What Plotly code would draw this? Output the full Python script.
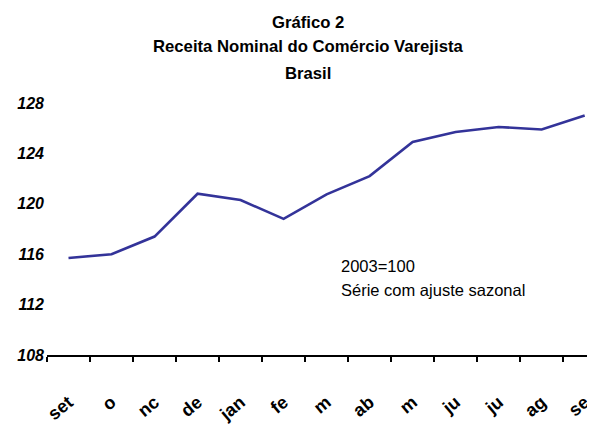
import plotly.graph_objects as go

months = ["set", "o", "nc", "de", "jan", "fe", "m", "ab", "m", "ju", "ju", "ag", "se"]
values = [115.7, 116.0, 117.4, 120.8, 120.3, 118.8, 120.75, 122.2, 124.9, 125.7, 126.1, 125.9, 127.0]
yticks = [108, 112, 116, 120, 124, 128]
title_lines = ["Gráfico 2", "Receita Nominal do Comércio Varejista", "Brasil"]
note_lines = ["2003=100", "Série com ajuste sazonal"]

idx = list(range(len(months)))

# page has an 8px body margin, so the figure is drawn 8px right/down
W, H = 587, 417
L, T, B, R = 39, 95, 70, 0
pw, ph = W - L - R, H - T - B


def px(xp):
    return (xp - 8 - L) / pw


def py(yp):
    return (T + ph - (yp - 8)) / ph


fig = go.Figure()
fig.add_trace(go.Scatter(x=idx, y=values, mode="lines",
                         line=dict(color="#333399", width=2.6),
                         hoverinfo="skip", showlegend=False))

annotations = []
for text, yc in zip(title_lines, [22, 47, 73]):
    annotations.append(dict(text=text, x=px(308), y=py(yc), xref="paper", yref="paper",
                            showarrow=False, xanchor="center", yanchor="middle",
                            font=dict(family="Liberation Sans", size=16.7, color="black",
                                      weight="bold")))
for text, yc in zip(note_lines, [266, 290]):
    annotations.append(dict(text=text, x=px(339), y=py(yc), xref="paper", yref="paper",
                            showarrow=False, xanchor="left", yanchor="middle",
                            font=dict(family="Liberation Sans", size=16.5, color="black")))

fig.update_layout(
    width=W, height=H,
    margin=dict(l=L, r=R, t=T, b=B, autoexpand=False),
    paper_bgcolor="white", plot_bgcolor="white",
    xaxis=dict(range=[-0.5, 12.24], tickmode="array", tickvals=idx, ticktext=months,
               tickangle=-40, ticks="", showgrid=False, zeroline=False,
               showline=True, linecolor="black", linewidth=1.6,
               ticklabelstandoff=28, automargin=False,
               tickfont=dict(family="Liberation Sans", size=18, color="black",
                             weight="bold")),
    yaxis=dict(range=[108, 128], tickmode="array", tickvals=yticks,
               ticktext=[str(v) for v in yticks], ticks="", showgrid=False,
               zeroline=False, showline=False, ticklabelstandoff=2, automargin=False,
               tickfont=dict(family="Liberation Sans", size=16, color="black",
                             weight="bold", style="italic")),
    annotations=annotations,
)
fig.update_xaxes(minor=dict(ticks="outside", tick0=-0.5, dtick=1, ticklen=5,
                            tickcolor="black", tickwidth=1.5, showgrid=False))

fig.write_html("out.html")
